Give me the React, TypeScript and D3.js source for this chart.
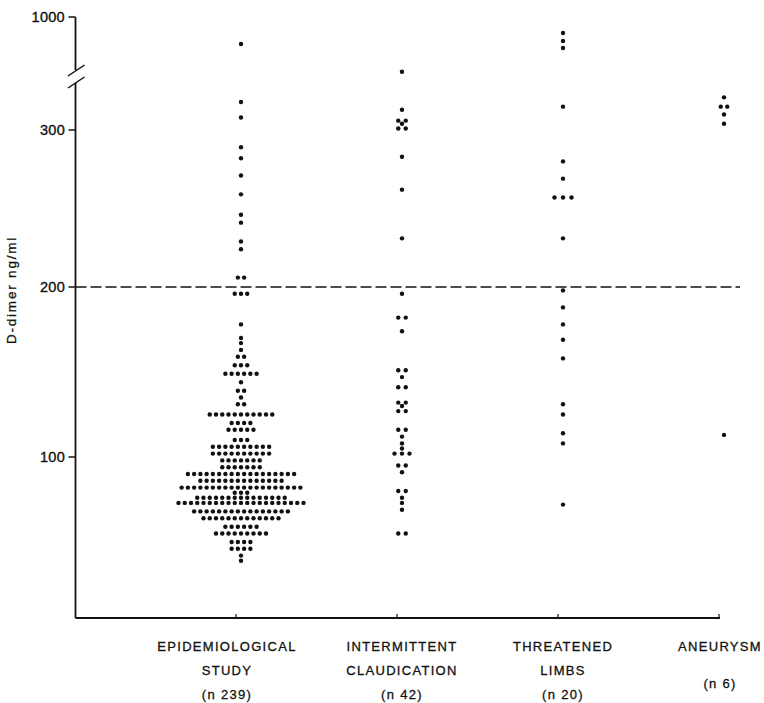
import React from 'react';
import * as d3 from 'd3';

const width = 764;
const height = 703;
const axisX = 75.5;
const axisY = 618;
const dotRadius = 2.2;
const dotShift = 5;

// groups along the x axis
const categories = ['epi', 'ic', 'tl', 'an'];
const categoryLines = [
  ['EPIDEMIOLOGICAL', 'STUDY', '(n 239)'],
  ['INTERMITTENT', 'CLAUDICATION', '(n 42)'],
  ['THREATENED', 'LIMBS', '(n 20)'],
  ['ANEURYSM', '', '(n 6)'],
];
const labelShift = [-9, 5, 5, 1];

// [D-dimer value, number of patients at that value]
const epidemiological = [
  [775, 1], [318, 1], [308, 1], [289, 1], [282, 1], [271, 1], [259, 1], [246, 1],
  [241, 1], [229, 1], [224, 1], [206, 2], [196, 3], [178, 1], [170, 1], [167, 1],
  [163, 1], [159, 2], [154, 3], [149, 6], [144, 1], [139, 2], [135, 1], [131, 2],
  [125, 11], [120, 4], [116, 5], [110, 3], [106, 10], [102, 10], [98, 7], [94, 7],
  [90, 18], [86, 14], [82, 20], [79, 3], [76, 15], [73, 21], [68, 16], [64, 13],
  [59, 6], [55, 9], [50, 4], [46, 4], [42, 1], [39, 1],
];
const claudication = [
  [520, 1], [313, 1], [306, 2], [304, 1], [301, 2], [283, 1], [262, 1], [231, 1],
  [196, 1], [182, 2], [174, 1], [151, 2], [147, 1], [141, 2], [132, 2], [130, 1],
  [127, 2], [116, 2], [112, 1], [108, 1], [105, 1], [102, 3], [95, 2], [91, 1],
  [80, 2], [76, 1], [73, 1], [69, 1], [55, 2],
];
const threatened = [
  [867, 1], [800, 1], [742, 1], [315, 1], [280, 1], [269, 1], [257, 3], [231, 1],
  [198, 1], [188, 1], [178, 1], [169, 1], [158, 1], [131, 1], [125, 1], [114, 1],
  [108, 1], [72, 1],
];
const aneurysm = [
  [321, 1], [315, 2], [310, 1], [304, 1], [113, 1],
];
const groups = [epidemiological, claudication, threatened, aneurysm];
const spacings = [6.25, 7.5, 8.5, 6.5];

const yTicks = [100, 200, 300, 1000];
const cutoff = 200;

// broken axis: lower part linear, gap, then a compressed top section up to 1000
const y = d3.scaleLinear()
  .domain([100, 200, 300, 327, 600, 1000])
  .range([457, 287, 130, 88, 65, 17]);

const x = d3.scalePoint<string>()
  .domain(categories)
  .range([236, 719]);

const font = '"Liberation Sans", Arial, Helvetica, sans-serif';
const ink = '#111';

const dots: { cx: number; cy: number; key: string }[] = [];
groups.forEach((g, gi) => {
  const cx0 = (x(categories[gi]) as number) + dotShift;
  g.forEach(([v, n], ri) => {
    for (let i = 0; i < n; i++) {
      dots.push({
        cx: cx0 + (i - (n - 1) / 2) * spacings[gi],
        cy: y(v),
        key: `${gi}-${ri}-${i}`,
      });
    }
  });
});

const App = () => {
  const breakLow = y(327);
  const breakHigh = y(600);
  return (
    <svg
      width={width}
      height={height}
      style={{ position: 'absolute', left: 0, top: 0, background: '#fff' }}
      fontFamily={font}
    >
      {/* y axis with break */}
      <line x1={axisX} x2={axisX} y1={y(1000)} y2={breakHigh + 5} stroke={ink} strokeWidth={1.8} />
      <line x1={axisX} x2={axisX} y1={breakLow - 5} y2={axisY} stroke={ink} strokeWidth={1.8} />
      <line x1={68} y1={breakHigh + 11} x2={84.5} y2={breakHigh} stroke={ink} strokeWidth={1.5} />
      <line x1={68} y1={breakLow} x2={84.5} y2={breakLow - 11} stroke={ink} strokeWidth={1.5} />

      {yTicks.map((t) => (
        <g key={t}>
          <line x1={axisX - 7} x2={axisX} y1={y(t)} y2={y(t)} stroke={ink} strokeWidth={1.5} />
          <text
            x={65}
            y={y(t)}
            dy="0.36em"
            textAnchor="end"
            fontSize={14.5}
            letterSpacing={0.3}
            fill={ink}
            stroke={ink}
            strokeWidth={0.35}
          >
            {t}
          </text>
        </g>
      ))}

      <text
        transform={`translate(16,290) rotate(-90)`}
        textAnchor="middle"
        fontSize={13.5}
        letterSpacing={1.8}
        fill={ink}
        stroke={ink}
        strokeWidth={0.3}
      >
        D-dimer ng/ml
      </text>

      {/* x axis */}
      <line x1={axisX} x2={720} y1={axisY} y2={axisY} stroke={ink} strokeWidth={1.8} />
      {categories.map((c) => (
        <line key={c} x1={x(c)} x2={x(c)} y1={axisY} y2={axisY - 4} stroke={ink} strokeWidth={1.2} />
      ))}

      {/* cut-off line */}
      <line
        x1={axisX}
        x2={740}
        y1={y(cutoff)}
        y2={y(cutoff)}
        stroke={ink}
        strokeWidth={1.6}
        strokeDasharray="11,4"
      />

      {dots.map((d) => (
        <circle key={d.key} cx={d.cx} cy={d.cy} r={dotRadius} fill={ink} />
      ))}

      {categories.map((c, i) => (
        <g key={c}>
          {categoryLines[i].map((ln, j) => (
            <text
              key={j}
              x={(x(c) as number) + labelShift[i]}
              y={i === 3 && j === 2 ? 688 : 651 + j * 24}
              textAnchor="middle"
              fontSize={13}
              letterSpacing={1.3}
              fill={ink}
              stroke={ink}
              strokeWidth={0.3}
            >
              {ln}
            </text>
          ))}
        </g>
      ))}
    </svg>
  );
};

export default App;
